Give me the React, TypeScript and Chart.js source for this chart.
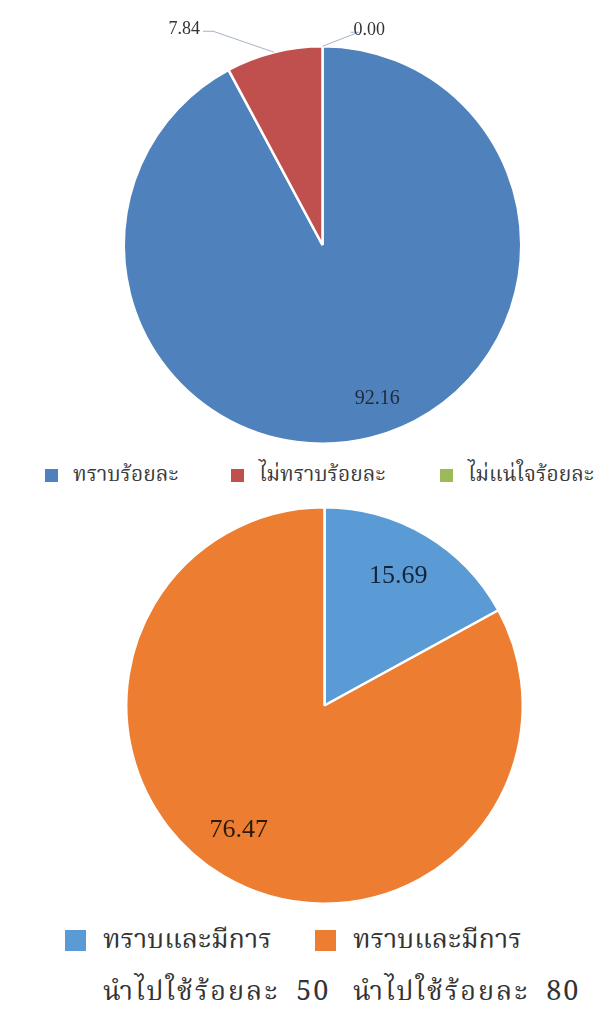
import React, { useEffect, useRef } from "react";
import { Chart, registerables } from "chart.js";

Chart.register(...registerables);

// ---------- DATA ----------
const topLabels = ["ทราบร้อยละ", "ไม่ทราบร้อยละ", "ไม่แน่ใจร้อยละ"];
const topValues = [92.16, 7.84, 0.0];
const topColors = ["#4F81BD", "#C0504D", "#9BBB59"];

const bottomLabels = [
  ["ทราบและมีการ", "นำไปใช้ร้อยละ 50"],
  ["ทราบและมีการ", "นำไปใช้ร้อยละ 80"],
];
const bottomValues = [15.69, 76.47];
const bottomColors = ["#5B9BD5", "#ED7D31"];

const THAI_FONT = '"Noto Serif Thai", "Noto Sans Thai Looped", "TH Sarabun New", Garuda, Loma, "Noto Sans Thai", serif';
const NUM_FONT = '"Liberation Serif", "DejaVu Serif", serif';

type LabelSpec =
  | { mode: "inside"; frac: number; size: number; color: string; nx?: number; ny?: number }
  | { mode: "outside"; dx: number; dy: number; bend: number; align: "left" | "right"; size: number; color: string };

const labelPlugin = {
  id: "sliceLabels",
  afterDatasetsDraw(chart: any, _args: any, opts: any) {
    const specs: LabelSpec[] = opts.specs || [];
    const ctx = chart.ctx;
    const meta = chart.getDatasetMeta(0);
    const data = chart.data.datasets[0].data as number[];
    meta.data.forEach((arc: any, i: number) => {
      const spec = specs[i];
      if (!spec) return;
      const p = arc.getProps(["x", "y", "startAngle", "endAngle", "outerRadius"], true);
      const mid = (p.startAngle + p.endAngle) / 2;
      const txt = data[i].toFixed(2);
      ctx.save();
      ctx.fillStyle = spec.color;
      ctx.font = `${spec.size}px ${NUM_FONT}`;
      ctx.textBaseline = "middle";
      if (spec.mode === "inside") {
        const r = p.outerRadius * spec.frac;
        ctx.textAlign = "center";
        ctx.fillText(txt, p.x + Math.cos(mid) * r + (spec.nx || 0), p.y + Math.sin(mid) * r + (spec.ny || 0));
      } else {
        const ex = p.x + Math.cos(mid) * p.outerRadius;
        const ey = p.y + Math.sin(mid) * p.outerRadius;
        const lx = ex + spec.dx;
        const ly = ey + spec.dy;
        const dir = spec.align === "right" ? 1 : -1;
        ctx.strokeStyle = "#A5B4C8";
        ctx.lineWidth = 1;
        ctx.beginPath();
        ctx.moveTo(ex, ey);
        ctx.lineTo(lx + dir * spec.bend, ly);
        ctx.lineTo(lx, ly);
        ctx.stroke();
        ctx.textAlign = spec.align === "right" ? "right" : "left";
        ctx.fillText(txt, lx - dir * 3, ly - 2);
      }
      ctx.restore();
    });
  },
};

function PieChart(props: {
  values: number[];
  colors: string[];
  labels: any[];
  width: number;
  height: number;
  padding: { left: number; right: number; top: number; bottom: number };
  specs: LabelSpec[];
}) {
  const ref = useRef<HTMLCanvasElement | null>(null);
  useEffect(() => {
    if (!ref.current) return;
    const chart = new Chart(ref.current, {
      type: "pie",
      data: {
        labels: props.labels,
        datasets: [
          {
            data: props.values,
            backgroundColor: props.colors,
            borderColor: "#FFFFFF",
            borderWidth: 2.5,
          },
        ],
      },
      options: {
        animation: false,
        responsive: false,
        maintainAspectRatio: false,
        layout: { padding: props.padding },
        plugins: {
          legend: { display: false },
          tooltip: { enabled: false },
          sliceLabels: { specs: props.specs },
        } as any,
      },
      plugins: [labelPlugin],
    });
    return () => chart.destroy();
  }, []);
  return (
    <canvas
      ref={ref}
      width={props.width}
      height={props.height}
      style={{ width: props.width, height: props.height, display: "block" }}
    />
  );
}

export default function App() {
  const topSpecs: LabelSpec[] = [
    { mode: "inside", frac: 0.8, size: 20, color: "#1F2A3A", nx: 16, ny: 0 },
    { mode: "outside", dx: -71, dy: -21, bend: 10, align: "right", size: 18, color: "#333333" },
    { mode: "outside", dx: 28, dy: -14, bend: -8, align: "left", size: 18, color: "#333333" },
  ];
  const bottomSpecs: LabelSpec[] = [
    { mode: "inside", frac: 0.76, size: 26, color: "#14233A", nx: -3, ny: 0 },
    { mode: "inside", frac: 0.77, size: 26, color: "#2E1A0A", nx: -8, ny: -7 },
  ];
  const topLegendX = [45, 231, 440];
  const bottomLegendX = [65, 315];
  return (
    <div style={{ position: "absolute", left: 0, top: 0, width: 614, height: 1012, background: "#fff" }}>
      <div style={{ position: "absolute", left: 0, top: 0 }}>
        <PieChart
          values={topValues}
          colors={topColors}
          labels={topLabels}
          width={614}
          height={455}
          padding={{ left: 122, right: 91, top: 45, bottom: 10 }}
          specs={topSpecs}
        />
      </div>
      {topLabels.map((l, i) => (
        <div
          key={l}
          style={{
            position: "absolute",
            left: topLegendX[i],
            top: 463,
            height: 24,
            display: "flex",
            alignItems: "center",
            fontFamily: THAI_FONT,
            fontSize: 21,
            color: "#3a3a3a",
            whiteSpace: "nowrap",
          }}
        >
          <span style={{ width: 13, height: 13, background: topColors[i], display: "inline-block", marginRight: 15, flex: "none" }} />
          {l}
        </div>
      ))}
      <div style={{ position: "absolute", left: 0, top: 495 }}>
        <PieChart
          values={bottomValues}
          colors={bottomColors}
          labels={bottomLabels}
          width={614}
          height={420}
          padding={{ left: 124, right: 89, top: 11, bottom: 10 }}
          specs={bottomSpecs}
        />
      </div>
      {bottomLabels.map((l, i) => (
        <div key={i} style={{ position: "absolute", left: bottomLegendX[i], top: 922, fontFamily: THAI_FONT, fontSize: 27, color: "#333", whiteSpace: "nowrap" }}>
          <div style={{ display: "flex", alignItems: "center", height: 36 }}>
            <span style={{ width: 21, height: 21, background: bottomColors[i], display: "inline-block", marginRight: 17, flex: "none" }} />
            {l[0]}
          </div>
          <div style={{ marginLeft: 38, height: 70, lineHeight: "70px", letterSpacing: 2, wordSpacing: 8 }}>{l[1]}</div>
        </div>
      ))}
    </div>
  );
}
